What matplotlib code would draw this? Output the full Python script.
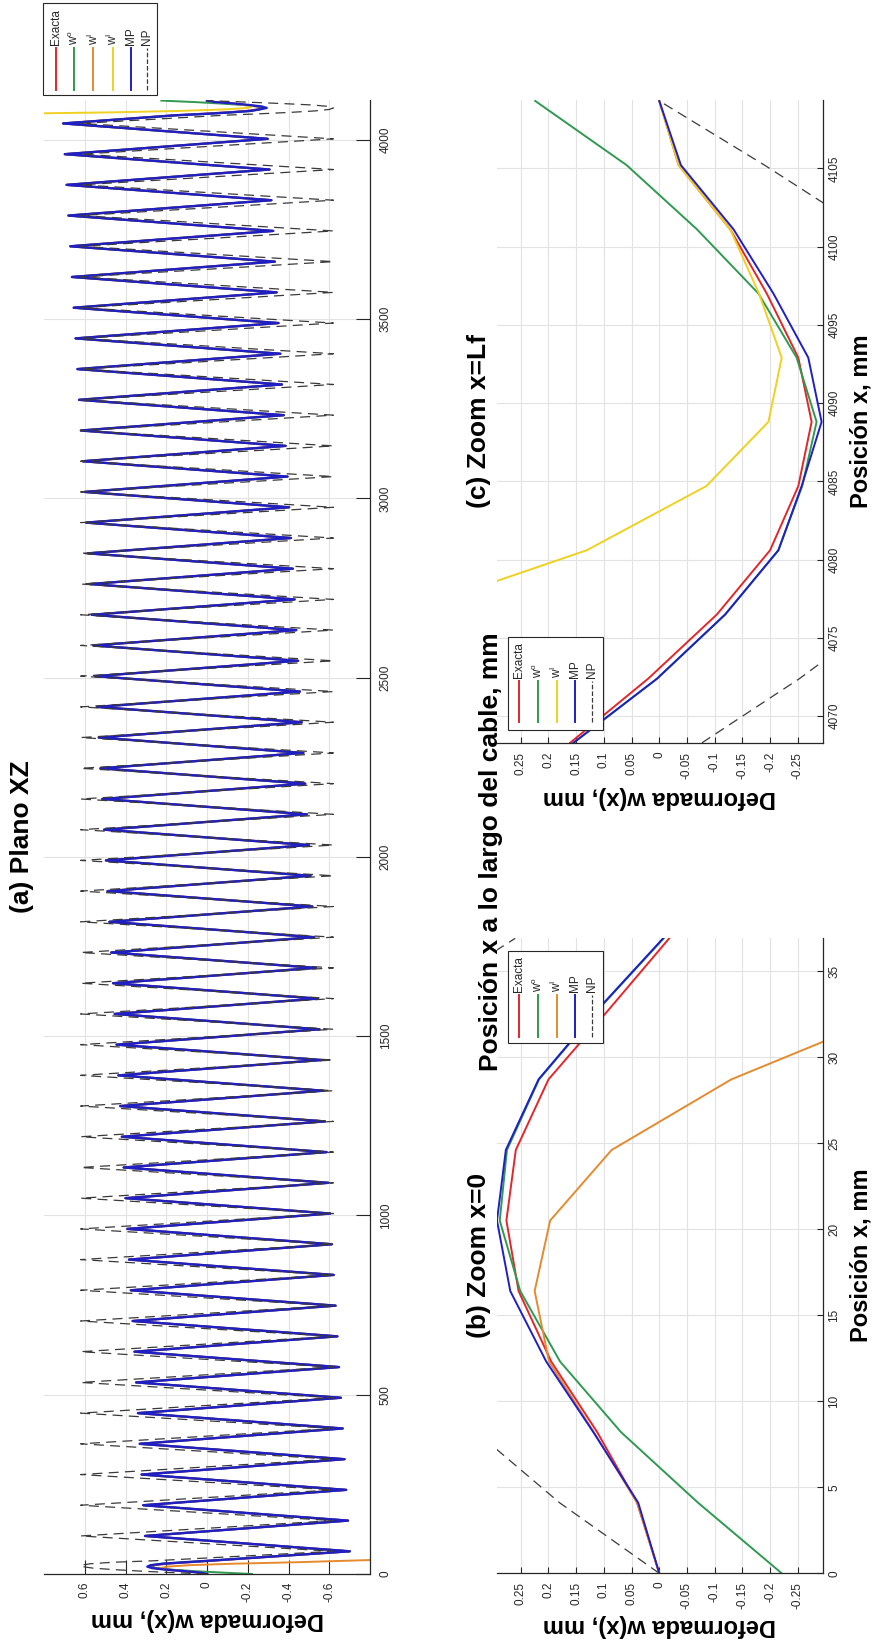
import numpy as np
import matplotlib
matplotlib.use("Agg")
import matplotlib.pyplot as plt
from matplotlib.patches import Rectangle
from matplotlib.lines import Line2D

plt.rcParams['font.family'] = ['Liberation Sans', 'DejaVu Sans']
plt.rcParams['mathtext.fontset'] = 'custom'
plt.rcParams['mathtext.rm'] = 'Liberation Sans'
plt.rcParams['mathtext.it'] = 'Liberation Sans:italic'

# --- datos cerca de x = 0 (mm) ---
x_ini = [0.0, 4.1, 8.2, 12.3, 16.4, 20.5, 24.6, 28.7, 32.8, 36.9]
exacta_ini = [0.0, 0.040, 0.112, 0.195, 0.254, 0.276, 0.259, 0.200, 0.090, -0.018]
w0_ini = [-0.221, -0.070, 0.069, 0.179, 0.251, 0.288, 0.275, 0.217, 0.109, -0.008]
mp_ini = [0.0, 0.038, 0.119, 0.204, 0.269, 0.293, 0.277, 0.218, 0.110, -0.007]
np_ini = [0.0, 0.180, 0.330, 0.460, 0.560, 0.610, 0.620, 0.570, 0.460, 0.260]
xI_ini = [0.0, 4.1, 8.2, 12.3, 16.4, 20.5, 24.6, 28.7, 32.8, 36.9, 41.0]
wI_ini = [0.0, 0.040, 0.118, 0.199, 0.225, 0.197, 0.086, -0.130, -0.440, -0.680, -0.920]

# --- datos cerca de x = Lf (mm) ---
x_fin = [4068.3, 4072.4, 4076.5, 4080.6, 4084.7, 4088.8, 4092.9, 4097.0, 4101.1, 4105.2, 4109.3]
exacta_fin = [0.161, 0.020, -0.104, -0.200, -0.251, -0.275, -0.251, -0.194, -0.128, -0.035, 0.0]
w0_fin = [0.155, 0.004, -0.119, -0.215, -0.258, -0.284, -0.248, -0.179, -0.068, 0.059, 0.224]
mp_fin = [0.155, 0.004, -0.119, -0.215, -0.257, -0.293, -0.269, -0.206, -0.134, -0.039, 0.0]
np_fin = [-0.077, -0.253, -0.410, -0.530, -0.600, -0.620, -0.600, -0.520, -0.370, -0.190, 0.0]
xI_fin = [4072.4, 4076.5, 4080.6, 4084.7, 4088.8, 4092.9, 4097.0, 4101.1, 4105.2, 4109.3]
wI_fin = [1.000, 0.470, 0.131, -0.085, -0.197, -0.221, -0.180, -0.128, -0.035, 0.0]

# --- crestas y valles a lo largo del cable ---
x_cresta = [106.1, 191.8, 277.4, 363.1, 448.7, 534.3, 620.0, 705.6, 791.3, 876.9,
            962.5, 1048.2, 1133.8, 1219.5, 1305.1, 1390.7, 1476.4, 1562.0, 1647.7, 1733.3,
            1818.9, 1904.6, 1990.2, 2075.9, 2161.5, 2247.1, 2332.8, 2418.4, 2504.1, 2589.7,
            2675.3, 2761.0, 2846.6, 2932.3, 3017.9, 3103.5, 3189.2, 3274.8, 3360.5, 3446.1,
            3531.7, 3617.4, 3703.0, 3788.7, 3874.3, 3959.9, 4045.6]
mp_cresta = [0.304, 0.313, 0.321, 0.330, 0.339, 0.348, 0.356, 0.365, 0.374, 0.383,
             0.391, 0.400, 0.409, 0.418, 0.426, 0.435, 0.444, 0.453, 0.461, 0.470,
             0.479, 0.488, 0.496, 0.505, 0.514, 0.523, 0.531, 0.540, 0.549, 0.558,
             0.566, 0.575, 0.584, 0.593, 0.601, 0.610, 0.619, 0.628, 0.636, 0.645,
             0.654, 0.663, 0.671, 0.680, 0.689, 0.698, 0.706]
np_cresta = [0.62, 0.62, 0.62, 0.62, 0.62, 0.62, 0.62, 0.62, 0.62, 0.62,
             0.62, 0.62, 0.62, 0.62, 0.62, 0.62, 0.62, 0.62, 0.62, 0.62,
             0.62, 0.62, 0.62, 0.62, 0.62, 0.62, 0.62, 0.62, 0.62, 0.62,
             0.62, 0.62, 0.62, 0.62, 0.62, 0.62, 0.62, 0.62, 0.62, 0.62,
             0.62, 0.62, 0.62, 0.62, 0.62, 0.62, 0.62]
x_valle = [63.3, 148.9, 234.6, 320.2, 405.9, 491.5, 577.1, 662.8, 748.4, 834.1,
           919.7, 1005.3, 1091.0, 1176.6, 1262.3, 1347.9, 1433.5, 1519.2, 1604.8, 1690.5,
           1776.1, 1861.7, 1947.4, 2033.0, 2118.7, 2204.3, 2289.9, 2375.6, 2461.2, 2546.9,
           2632.5, 2718.1, 2803.8, 2889.4, 2975.1, 3060.7, 3146.3, 3232.0, 3317.6, 3403.3,
           3488.9, 3574.5, 3660.2, 3745.8, 3831.5, 3917.1, 4002.7]
mp_valle = [-0.701, -0.692, -0.683, -0.675, -0.666, -0.657, -0.648, -0.640, -0.631, -0.622,
            -0.613, -0.605, -0.596, -0.587, -0.578, -0.570, -0.561, -0.552, -0.543, -0.535,
            -0.526, -0.517, -0.508, -0.500, -0.491, -0.482, -0.473, -0.465, -0.456, -0.447,
            -0.438, -0.430, -0.421, -0.412, -0.403, -0.395, -0.386, -0.377, -0.368, -0.360,
            -0.351, -0.342, -0.333, -0.325, -0.316, -0.307, -0.298]
np_valle = [-0.62, -0.62, -0.62, -0.62, -0.62, -0.62, -0.62, -0.62, -0.62, -0.62,
            -0.62, -0.62, -0.62, -0.62, -0.62, -0.62, -0.62, -0.62, -0.62, -0.62,
            -0.62, -0.62, -0.62, -0.62, -0.62, -0.62, -0.62, -0.62, -0.62, -0.62,
            -0.62, -0.62, -0.62, -0.62, -0.62, -0.62, -0.62, -0.62, -0.62, -0.62,
            -0.62, -0.62, -0.62, -0.62, -0.62, -0.62, -0.62]

rojo, verde, naranja, amarillo, azul, gris = '#e3262a', '#2e9a50', '#e58a2e', '#f0d020', '#1f1fc4', '#3a3a3a'
trazo_np = (0, (8, 5))


def cable(w_ini, w_fin, w_cresta, w_valle):
    # une los extremos con las crestas y valles intermedios
    medio = sorted(list(zip(x_cresta, w_cresta)) + list(zip(x_valle, w_valle)))
    x = x_ini + [p[0] for p in medio] + x_fin
    w = w_ini + [p[1] for p in medio] + w_fin
    return w, x


W, H = 878, 1641
fig = plt.figure(figsize=(W / 100, H / 100), dpi=100)


def caja(l, r, t, b):
    return [l / W, 1 - b / H, (r - l) / W, (b - t) / H]


def ftext(x, y, s, **kw):
    fig.text(x / W, 1 - y / H, s, **kw)


def estilo(ax, wlim, xlim, wticks, xticks, largo, pad_w, pad_x):
    ax.set_xlim(*wlim)
    ax.set_ylim(*xlim)
    ax.set_xticks(wticks)
    ax.set_xticklabels([f'{v:g}' for v in wticks], rotation=90)
    ax.set_yticks(xticks)
    ax.set_yticklabels([f'{v:g}' for v in xticks], rotation=90, va='center')
    ax.yaxis.tick_right()
    for s in ['top', 'left']:
        ax.spines[s].set_visible(False)
    for s in ['bottom', 'right']:
        ax.spines[s].set_color('#262626')
        ax.spines[s].set_linewidth(0.9)
    ax.tick_params(direction='in', length=largo, width=0.8, colors='#262626', labelsize=8.5)
    ax.tick_params(axis='x', pad=pad_w)
    ax.tick_params(axis='y', pad=pad_x)
    ax.grid(True, color='#e2e2e2', lw=0.8)
    ax.set_axisbelow(True)


def leyenda(l, r, t, b, xs, y_txt, y_h0, y_h1, entradas):
    fig.add_artist(Rectangle((l / W, 1 - b / H), (r - l) / W, (b - t) / H,
                             transform=fig.transFigure, fc='white', ec='#262626', lw=0.8, zorder=5))
    for xc, (nombre, color, ls) in zip(xs, entradas):
        fig.add_artist(Line2D([xc / W, xc / W], [1 - y_h1 / H, 1 - y_h0 / H], transform=fig.transFigure,
                              color=color, lw=1.4 if ls == '-' else 0.9, ls=ls, zorder=6))
        fig.text(xc / W, 1 - y_txt / H, nombre, rotation=90, ha='center', va='bottom',
                 fontsize=8.5, color='#262626', zorder=7)


w0_lab = r'w$^{\mathrm{o}}$'
wI_lab = r'w$^{\mathrm{I}}$'

# (a) plano XZ, cable completo
ax_a = fig.add_axes(caja(44, 370, 100, 1574))
w, x = cable(exacta_ini, exacta_fin, mp_cresta, mp_valle)
ax_a.plot(w, x, color=rojo, lw=1.6)
w, x = cable(w0_ini, w0_fin, mp_cresta, mp_valle)
ax_a.plot(w, x, color=verde, lw=1.4)
ax_a.plot(wI_ini, xI_ini, color=naranja, lw=1.4)
ax_a.plot(wI_fin, xI_fin, color=amarillo, lw=1.4)
w, x = cable(mp_ini, mp_fin, mp_cresta, mp_valle)
ax_a.plot(w, x, color=azul, lw=1.7, solid_joinstyle='round')
w, x = cable(np_ini, np_fin, np_cresta, np_valle)
ax_a.plot(w, x, color=gris, lw=0.9, ls=trazo_np)
estilo(ax_a, (0.8, -0.8), (0, 4111), [-0.6, -0.4, -0.2, 0, 0.2, 0.4, 0.6],
       list(range(0, 4001, 500)), 10, 5.5, 7)

# (b) zoom x = 0
ax_b = fig.add_axes(caja(496.7, 822.7, 938.3, 1573.3))
ax_b.plot(exacta_ini, x_ini, color=rojo, lw=1.4)
ax_b.plot(w0_ini, x_ini, color=verde, lw=1.4)
ax_b.plot(wI_ini, xI_ini, color=naranja, lw=1.4)
ax_b.plot(mp_ini, x_ini, color=azul, lw=1.4)
ax_b.plot(np_ini, x_ini, color=gris, lw=0.9, ls=trazo_np)
wt = [-0.25, -0.2, -0.15, -0.1, -0.05, 0, 0.05, 0.1, 0.15, 0.2, 0.25]
estilo(ax_b, (0.2935, -0.295), (0, 36.9), wt, list(range(0, 36, 5)), 4.5, 6, 4)

# (c) zoom x = Lf
ax_c = fig.add_axes(caja(496.7, 822.7, 100, 743.3))
ax_c.plot(exacta_fin, x_fin, color=rojo, lw=1.4)
ax_c.plot(w0_fin, x_fin, color=verde, lw=1.4)
ax_c.plot(wI_fin, xI_fin, color=amarillo, lw=1.4)
ax_c.plot(mp_fin, x_fin, color=azul, lw=1.4)
ax_c.plot(np_fin, x_fin, color=gris, lw=0.9, ls=trazo_np)
estilo(ax_c, (0.2935, -0.295), (4068.27, 4109.36), wt, list(range(4070, 4106, 5)), 4.5, 6, 4)

# titulos y etiquetas
neg = dict(fontweight='bold', color='black')
ftext(22, 837, '(a) Plano XZ', rotation=90, ha='center', va='center', fontsize=19, **neg)
ftext(491, 852, 'Posición x a lo largo del cable, mm', rotation=90, ha='center', va='center', fontsize=19, **neg)
ftext(207, 1619, 'Deformada w(x), mm', rotation=180, ha='center', va='center', fontsize=17, **neg)
ftext(479.5, 1255, '(b) Zoom x=0', rotation=90, ha='center', va='center', fontsize=19, **neg)
ftext(861, 1255, 'Posición x, mm', rotation=90, ha='center', va='center', fontsize=17, **neg)
ftext(659, 1626, 'Deformada w(x), mm', rotation=180, ha='center', va='center', fontsize=17, **neg)
ftext(479.5, 421, '(c) Zoom x=Lf', rotation=90, ha='center', va='center', fontsize=19, **neg)
ftext(861, 421, 'Posición x, mm', rotation=90, ha='center', va='center', fontsize=17, **neg)
ftext(659, 797, 'Deformada w(x), mm', rotation=180, ha='center', va='center', fontsize=17, **neg)

# leyendas
leyenda(43.3, 156.7, 3.3, 95, [55.7, 74.3, 93.3, 112.7, 130.7, 147.3], 45, 48.3, 90,
        [('Exacta', rojo, '-'), (w0_lab, verde, '-'), (wI_lab, naranja, '-'),
         (wI_lab, amarillo, '-'), ('MP', azul, '-'), ('NP', gris, '--')])
leyenda(508.3, 602.7, 950.7, 1043.3, [519.3, 537.7, 556.7, 575, 592.3], 991.7, 995, 1036.7,
        [('Exacta', rojo, '-'), (w0_lab, verde, '-'), (wI_lab, naranja, '-'),
         ('MP', azul, '-'), ('NP', gris, '--')])
leyenda(508.3, 602.7, 636.8, 729.7, [519.3, 537.7, 556.7, 575, 592.3], 677.5, 681, 722,
        [('Exacta', rojo, '-'), (w0_lab, verde, '-'), (wI_lab, amarillo, '-'),
         ('MP', azul, '-'), ('NP', gris, '--')])

fig.savefig('out.png', dpi=100, facecolor='white')
